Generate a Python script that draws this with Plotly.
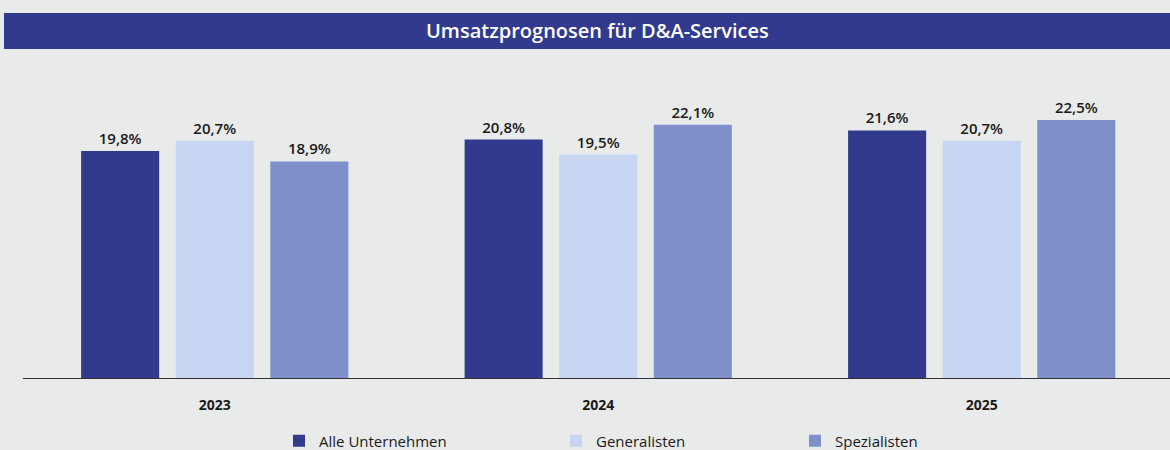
import plotly.graph_objects as go

years = ["2023", "2024", "2025"]
series_names = ["Alle Unternehmen", "Generalisten", "Spezialisten"]
alle = [19.8, 20.8, 21.6]
generalisten = [20.7, 19.5, 20.7]
spezialisten = [18.9, 22.1, 22.5]
colors = ["#313a8c", "#c5d5f2", "#7e8fca"]

values = [alle, generalisten, spezialisten]
legend_ids = ["legend", "legend2", "legend3"]
legend_x = [279 / 1170, 556 / 1170, 795 / 1170]

fig = go.Figure()
for name, vals, col, lg in zip(series_names, values, colors, legend_ids):
    fig.add_trace(go.Bar(
        x=years, y=vals, name=name, marker=dict(color=col, line=dict(width=0)),
        text=[f"{v:.1f}%".replace(".", ",") for v in vals],
        textposition="outside", cliponaxis=False,
        textfont=dict(family="Open Sans", size=15, color="#1a1a1a", weight=600),
        legend=lg,
    ))

bg = "#e9eaea"
legend_common = dict(orientation="h", yanchor="middle", y=1 - 441 / 450, xanchor="left",
                     xref="container", yref="container",
                     font=dict(family="Open Sans", size=15, color="#1a1a1a"),
                     bgcolor="rgba(0,0,0,0)", borderwidth=0, itemwidth=30)
layout_legends = {}
for lg, lx in zip(legend_ids, legend_x):
    layout_legends[lg] = dict(legend_common, x=lx)

fig.update_layout(
    width=1170, height=450,
    paper_bgcolor=bg, plot_bgcolor=bg,
    margin=dict(l=23, r=0, t=80, b=72, autoexpand=False),
    barmode="group", bargap=0.26, bargroupgap=0.175,
    showlegend=True,
    xaxis=dict(range=[-0.5, 2.491], showline=True, linecolor="#333333", linewidth=1,
               ticks="", showgrid=False, ticklabelstandoff=14, automargin=False,
               tickfont=dict(family="Open Sans", size=14, color="#1a1a1a", weight=700)),
    yaxis=dict(range=[0, 26], visible=False, showgrid=False, zeroline=False, automargin=False),
    shapes=[dict(type="rect", xref="paper", yref="paper",
                 x0=(4 - 23) / 1147, x1=1.0, y0=(378 - 49) / 298, y1=(378 - 13) / 298,
                 fillcolor="#313a8c", line=dict(width=0), layer="below")],
    annotations=[dict(text="Umsatzprognosen für D&A-Services", xref="paper", yref="paper",
                      x=(597 - 23) / 1147, y=(378 - 31) / 298, showarrow=False,
                      xanchor="center", yanchor="middle",
                      font=dict(family="Open Sans", size=20, color="white", weight=600))],
    **layout_legends,
)

fig.write_html("out.html", config={"displayModeBar": False},
               post_script="document.body.style.margin='0';document.body.style.overflow='hidden';")
